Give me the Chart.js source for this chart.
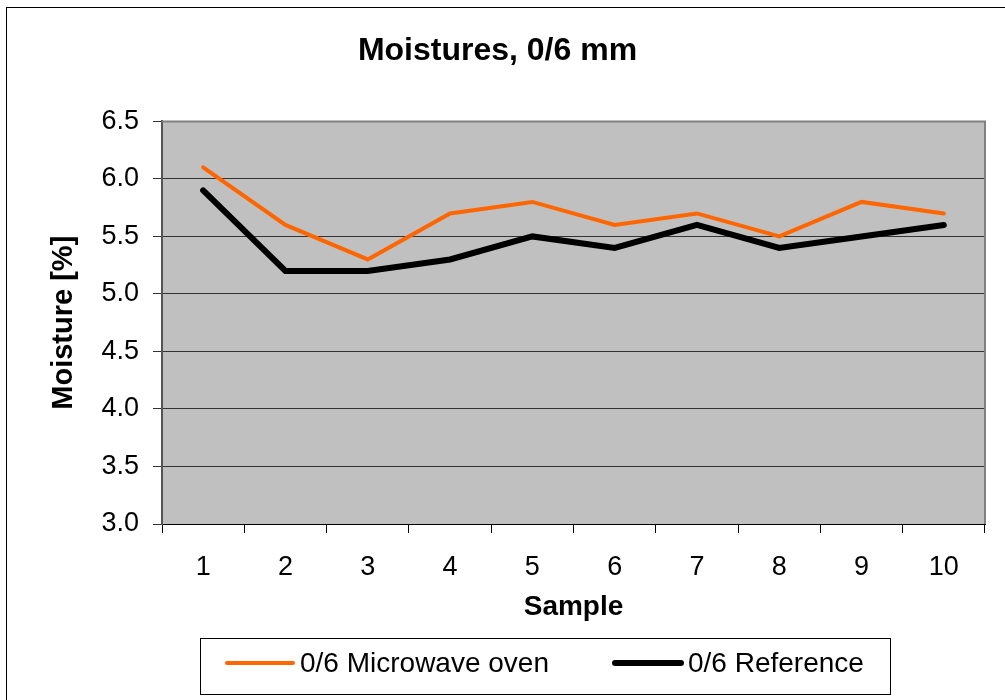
<!DOCTYPE html>
<html>
<head>
<meta charset="utf-8">
<script src="https://cdn.jsdelivr.net/npm/chart.js@4"></script>
<style>
  html, body { margin: 0; padding: 0; background: #fff; }
  #wrap { width: 1005px; height: 700px; }
</style>
</head>
<body>
<div id="wrap"><canvas id="moistChart" width="1005" height="700"></canvas></div>
<script>
const samples = ['1', '2', '3', '4', '5', '6', '7', '8', '9', '10'];
const microwaveValues = [6.1, 5.6, 5.3, 5.7, 5.8, 5.6, 5.7, 5.5, 5.8, 5.7];
const referenceValues = [5.9, 5.2, 5.2, 5.3, 5.5, 5.4, 5.6, 5.4, 5.5, 5.6];
const seriesNames = ['0/6 Microwave oven', '0/6 Reference'];

const FONT = 'Arial, "Liberation Sans", sans-serif';

// grey plot background, plot border, outer frame and boxed legend
const excelLook = {
  id: 'excelLook',
  beforeDraw(chart) {
    const { ctx, chartArea: a } = chart;
    ctx.save();
    ctx.fillStyle = '#c0c0c0';
    ctx.fillRect(a.left, a.top, a.right - a.left, a.bottom - a.top);
    ctx.strokeStyle = '#000';
    ctx.lineWidth = 1;
    ctx.strokeRect(6.5, 7.5, 1010, 710);
    ctx.restore();
  },
  afterDatasetsDraw(chart) {
    const { ctx, chartArea: a } = chart;
    ctx.save();
    ctx.strokeStyle = '#808080';
    ctx.lineWidth = 2;
    ctx.beginPath();
    ctx.moveTo(a.left, a.top);
    ctx.lineTo(a.right, a.top);
    ctx.lineTo(a.right, a.bottom);
    ctx.stroke();
    ctx.restore();
  },
  afterDraw(chart) {
    const { ctx } = chart;
    ctx.save();
    ctx.strokeStyle = '#000';
    ctx.lineWidth = 1;
    ctx.strokeRect(200.5, 638.5, 690, 56);
    const items = [
      { x: 227, text: seriesNames[0], color: '#ff6600', w: 4 },
      { x: 615, text: seriesNames[1], color: '#000000', w: 6 }
    ];
    ctx.font = '28px ' + FONT;
    ctx.textBaseline = 'middle';
    ctx.fillStyle = '#000';
    ctx.lineCap = 'round';
    items.forEach(it => {
      ctx.strokeStyle = it.color;
      ctx.lineWidth = it.w;
      ctx.beginPath();
      ctx.moveTo(it.x, 663);
      ctx.lineTo(it.x + 66, 663);
      ctx.stroke();
      ctx.fillText(it.text, it.x + 73, 664);
    });
    ctx.restore();
  }
};

new Chart(document.getElementById('moistChart'), {
  type: 'line',
  data: {
    labels: samples,
    datasets: [
      {
        label: seriesNames[0],
        data: microwaveValues,
        borderColor: '#ff6600',
        borderWidth: 4,
        borderCapStyle: 'round',
        pointRadius: 0,
        tension: 0
      },
      {
        label: seriesNames[1],
        data: referenceValues,
        borderColor: '#000000',
        borderWidth: 6,
        borderCapStyle: 'round',
        pointRadius: 0,
        tension: 0
      }
    ]
  },
  options: {
    responsive: false,
    animation: false,
    layout: { padding: { left: 10, right: 20, top: 0, bottom: 76 } },
    plugins: {
      legend: { display: false },
      tooltip: { enabled: false },
      title: {
        display: true,
        text: 'Moistures, 0/6 mm',
        color: '#000',
        font: { family: FONT, size: 32, weight: 'bold', lineHeight: 1.2 },
        padding: { top: 32, bottom: 51 }
      }
    },
    scales: {
      x: {
        offset: true,
        afterFit: s => { s.height = 100; },
        grid: {
          offset: true,
          drawOnChartArea: false,
          tickLength: 9,
          color: '#000'
        },
        border: { color: '#000', width: 1 },
        ticks: {
          color: '#000',
          padding: 18,
          maxRotation: 0,
          font: { family: FONT, size: 27 }
        },
        title: {
          display: true,
          text: 'Sample',
          color: '#000',
          font: { family: FONT, size: 28, weight: 'bold', lineHeight: 1.2 },
          padding: { top: 0, bottom: 0 }
        }
      },
      y: {
        min: 3.0,
        max: 6.5,
        afterFit: s => { s.width = 152; },
        grid: {
          color: '#333',
          lineWidth: 1,
          tickLength: 9
        },
        border: { color: '#555', width: 2 },
        ticks: {
          stepSize: 0.5,
          color: '#000',
          padding: 14,
          font: { family: FONT, size: 27 },
          callback: v => Number(v).toFixed(1)
        },
        title: {
          display: true,
          text: 'Moisture [%]',
          color: '#000',
          font: { family: FONT, size: 29, weight: 'bold', lineHeight: 1.2 },
          padding: { top: 37, bottom: 0 }
        }
      }
    }
  },
  plugins: [excelLook]
});
</script>
</body>
</html>
